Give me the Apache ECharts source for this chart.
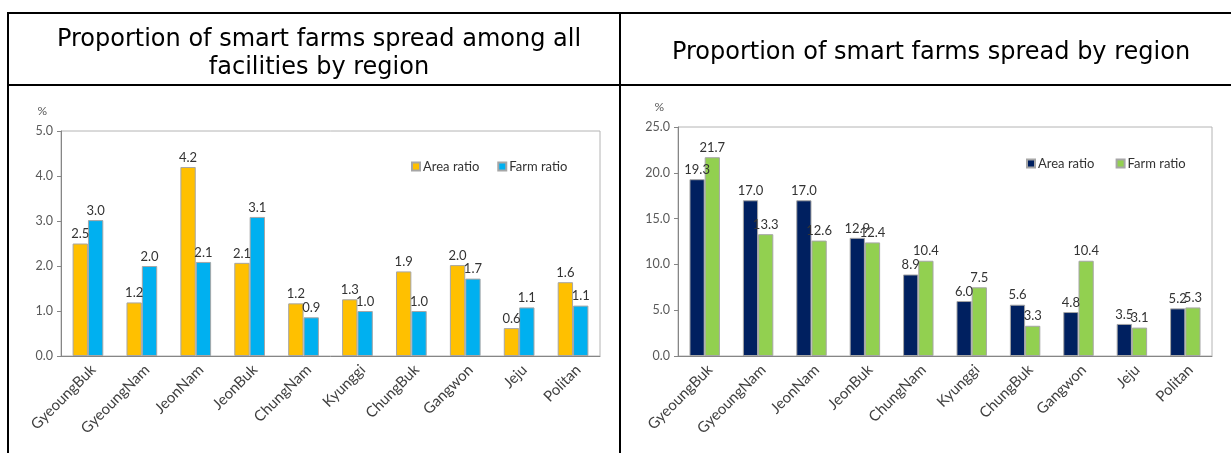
<!DOCTYPE html>
<html>
<head>
<meta charset="utf-8">
<script src="https://cdn.jsdelivr.net/npm/echarts@6/dist/echarts.min.js"></script>
<style>
  html, body { margin: 0; padding: 0; background: #fff; }
  #chart { position: absolute; left: 0; top: 0; width: 1231px; height: 453px; }
  .ln { position: absolute; background: #000; }
</style>
</head>
<body>
<div id="chart"></div>
<!-- table frame -->
<div class="ln" style="left:7px;top:12px;width:1224px;height:2px"></div>
<div class="ln" style="left:7px;top:84px;width:1224px;height:2px"></div>
<div class="ln" style="left:7px;top:12px;width:2px;height:441px"></div>
<div class="ln" style="left:619px;top:12px;width:2px;height:441px"></div>
<script>
const regions = ['GyeoungBuk', 'GyeoungNam', 'JeonNam', 'JeonBuk', 'ChungNam',
  'Kyunggi', 'ChungBuk', 'Gangwon', 'Jeju', 'Politan'];

// left chart: share of all facilities (%)
const allArea = [2.5, 1.19, 4.2, 2.07, 1.17, 1.26, 1.88, 2.02, 0.62, 1.64];
const allFarm = [3.02, 2.0, 2.09, 3.09, 0.86, 1.0, 1.0, 1.72, 1.08, 1.12];

// right chart: spread by region (%)
const regArea = [19.3, 17.0, 17.0, 12.9, 8.9, 6.0, 5.6, 4.8, 3.5, 5.2];
const regFarm = [21.7, 13.3, 12.6, 12.4, 10.4, 7.5, 3.3, 10.4, 3.1, 5.3];

const titleLeft = 'Proportion of smart farms spread among all\nfacilities by region';
const titleRight = 'Proportion of smart farms spread by region';

const font = 'Lato, "Liberation Sans", sans-serif';
const titleFont = '"DejaVu Sans", "Noto Sans", sans-serif';

function xAxis(idx) {
  return {
    type: 'category',
    gridIndex: idx,
    data: regions,
    axisLine: { lineStyle: { color: '#868686' } },
    axisTick: { length: 5, lineStyle: { color: '#868686' } },
    axisLabel: { interval: 0, rotate: 45, margin: 6, verticalAlign: 'top',
      fontFamily: font, fontSize: 15, color: '#404040' }
  };
}

function yAxis(idx, max, step) {
  return {
    type: 'value',
    gridIndex: idx,
    min: 0,
    max: max,
    interval: step,
    name: '%',
    nameLocation: 'end',
    nameGap: 14,
    nameTextStyle: { fontFamily: font, fontSize: 12, color: '#595959', align: 'right', padding: [0, 14, 0, 0] },
    axisLine: { show: true, lineStyle: { color: '#868686' } },
    axisTick: { show: true, length: 4, lineStyle: { color: '#868686' } },
    splitLine: { show: false },
    axisLabel: { fontFamily: font, fontSize: 12.5, color: '#595959', margin: 8, formatter: v => v.toFixed(1) }
  };
}

function bars(name, data, color, idx) {
  return {
    name: name,
    type: 'bar',
    xAxisIndex: idx,
    yAxisIndex: idx,
    data: data,
    barGap: '0%',
    barCategoryGap: '43%',
    itemStyle: { color: color, borderColor: '#a6a6a6', borderWidth: 1 },
    label: {
      show: true, position: 'top', distance: 3,
      fontFamily: font, fontSize: 13, color: '#333',
      formatter: p => p.value.toFixed(1)
    }
  };
}

const chart = echarts.init(document.getElementById('chart'));
chart.setOption({
  animation: false,
  title: [
    { text: titleLeft, left: 314, top: 21, textAlign: 'center',
      textStyle: { fontFamily: titleFont, fontSize: 24, fontWeight: 'normal', color: '#000', lineHeight: 28 } },
    { text: titleRight, left: 926, top: 36, textAlign: 'center',
      textStyle: { fontFamily: titleFont, fontSize: 24, fontWeight: 'normal', color: '#000' } }
  ],
  legend: [
    { data: ['Area ratio', 'Farm ratio'], left: 406, top: 155, itemWidth: 8, itemHeight: 8, itemGap: 18,
      icon: 'rect', textStyle: { fontFamily: font, fontSize: 13, color: '#333', padding: [0, 0, 0, -2] } },
    { data: ['Area ratio ', 'Farm ratio '], left: 1021, top: 152, itemWidth: 8, itemHeight: 8, itemGap: 18,
      icon: 'rect', textStyle: { fontFamily: font, fontSize: 13, color: '#333', padding: [0, 0, 0, -2] } }
  ],
  grid: [
    { left: 61, top: 131, width: 539, height: 225, show: true, borderColor: '#b4b4b4', borderWidth: 1 },
    { left: 678, top: 127, width: 534, height: 229, show: true, borderColor: '#b4b4b4', borderWidth: 1 }
  ],
  xAxis: [xAxis(0), xAxis(1)],
  yAxis: [yAxis(0, 5, 1), yAxis(1, 25, 5)],
  series: [
    bars('Area ratio', allArea, '#FFC000', 0),
    bars('Farm ratio', allFarm, '#00B0F0', 0),
    bars('Area ratio ', regArea, '#002060', 1),
    bars('Farm ratio ', regFarm, '#92D050', 1)
  ]
});
</script>
</body>
</html>
